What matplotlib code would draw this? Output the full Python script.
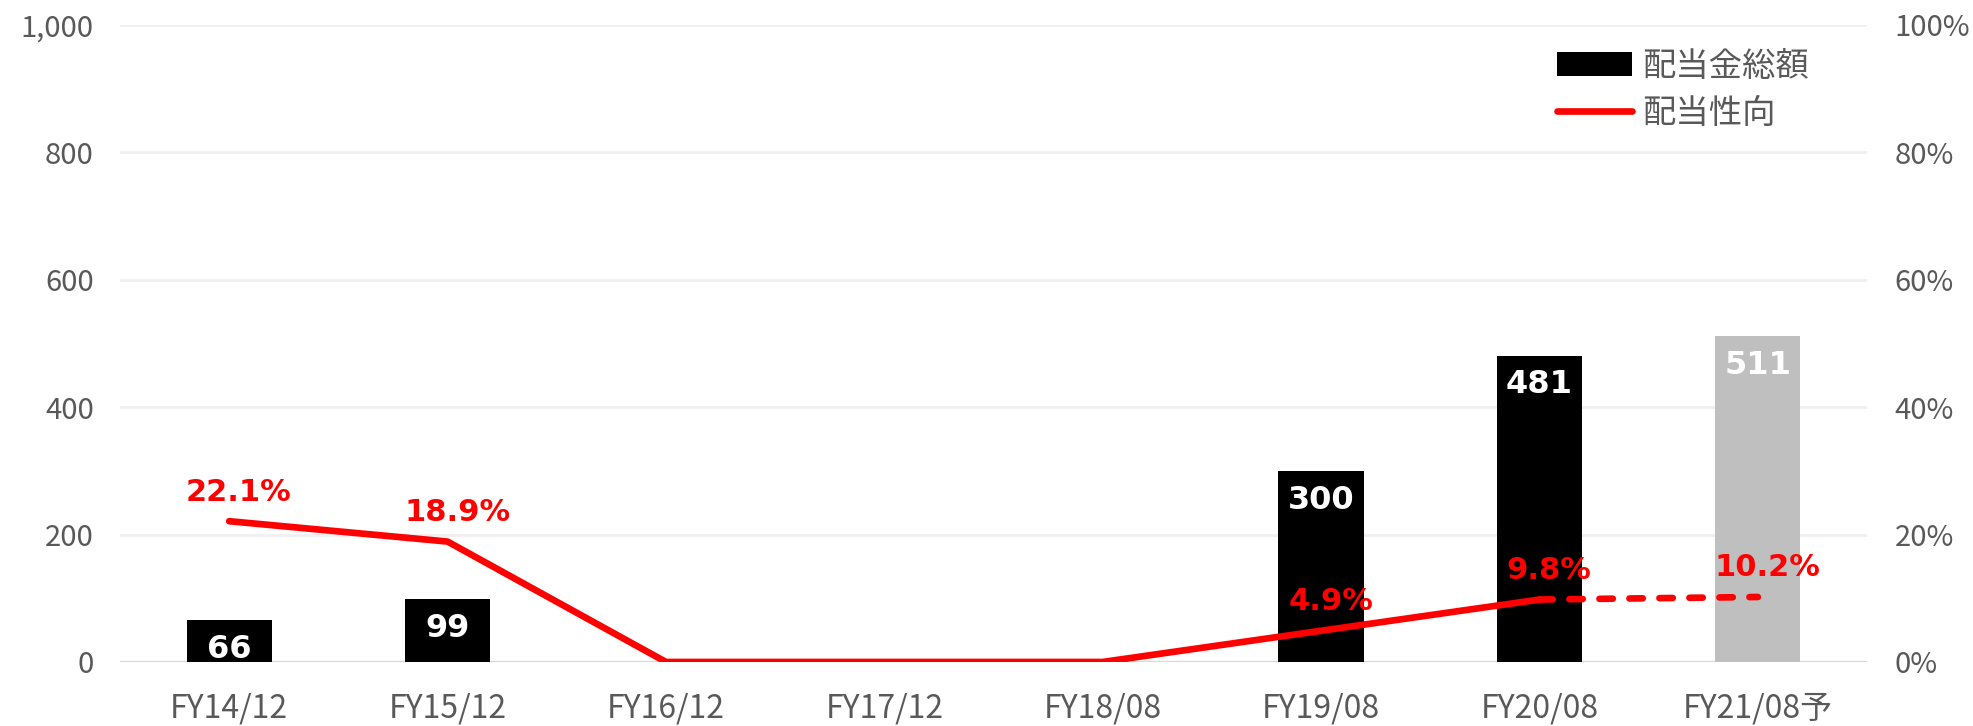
import numpy as np
import matplotlib.pyplot as plt

plt.rcParams['font.family'] = ['Noto Sans CJK JP', 'DejaVu Sans']

categories = ["FY14/12", "FY15/12", "FY16/12", "FY17/12", "FY18/08", "FY19/08", "FY20/08", "FY21/08予"]
dividends = [66, 99, 0, 0, 0, 300, 481, 511]
payout = [22.1, 18.9, 0, 0, 0, 4.9, 9.8, 10.2]
payout_labels = ["22.1%", "18.9%", "", "", "", "4.9%", "9.8%", "10.2%"]
bar_colors = ["black"] * 7 + ["#BFBFBF"]

x = np.arange(len(categories))

fig = plt.figure(figsize=(19.74, 7.26), dpi=100)
ax = fig.add_axes([0.0608, 0.0882, 0.885, 0.8774])
ax2 = ax.twinx()

bars = ax.bar(x, dividends, width=0.39, color=bar_colors, zorder=2, label="配当金総額")
ax.set_xlim(-0.5, len(categories) - 0.5)
ax.set_ylim(0, 1000)
ax.set_yticks(np.arange(0, 1001, 200))
ax.set_yticklabels([f"{v:,}" for v in range(0, 1001, 200)])
ax.grid(axis='y', color='#F0F0F0', linewidth=2, zorder=0)
ax.set_axisbelow(True)
for s in ax.spines.values():
    s.set_visible(False)
for s in ax2.spines.values():
    s.set_visible(False)
ax.axhline(0, color='#D9D9D9', linewidth=2.4, zorder=1)

ax.set_xticks(x)
ax.set_xticklabels(categories)
ax.tick_params(axis='x', length=0, pad=22, labelsize=23, labelcolor='#595959')
ax.tick_params(axis='y', length=0, pad=19, labelsize=21, labelcolor='#595959')

for i, v in enumerate(dividends):
    if v > 0:
        ax.annotate(str(v), (x[i], v), xytext=(0, -10), textcoords='offset points',
                    ha='center', va='top', color='white', fontsize=23,
                    fontweight='bold', family=['DejaVu Sans'], zorder=5)

# line: solid for actuals, dashed to the forecast
ax2.plot(x[:7], payout[:7], color='red', linewidth=4.8, solid_capstyle='round',
         solid_joinstyle='round', zorder=4, label="配当性向")
ax2.plot(x[6:], payout[6:], color='red', linewidth=4.8, linestyle=(0, (2, 2.5)),
         dash_capstyle='round', zorder=4)
ax2.set_ylim(0, 100)
ax2.set_yticks(np.arange(0, 101, 20))
ax2.set_yticklabels([f"{v}%" for v in range(0, 101, 20)])
ax2.tick_params(axis='y', length=0, pad=20, labelsize=21, labelcolor='#595959')

for i, lab in enumerate(payout_labels):
    if lab:
        ax2.annotate(lab, (x[i], payout[i]), xytext=(7, 21), textcoords='offset points',
                     ha='center', va='center', color='red', fontsize=22,
                     fontweight='bold', family=['DejaVu Sans'], zorder=6)

h1, l1 = ax.get_legend_handles_labels()
h2, l2 = ax2.get_legend_handles_labels()
leg = fig.legend(h1 + h2, l1 + l2, loc='upper left', bbox_to_anchor=(0.789, 0.933),
                 frameon=False, fontsize=24, handlelength=2.25, handletextpad=0.3,
                 labelspacing=0.37, borderpad=0, borderaxespad=0)
for t in leg.get_texts():
    t.set_color('#595959')

fig.savefig("out.png", dpi=100)
